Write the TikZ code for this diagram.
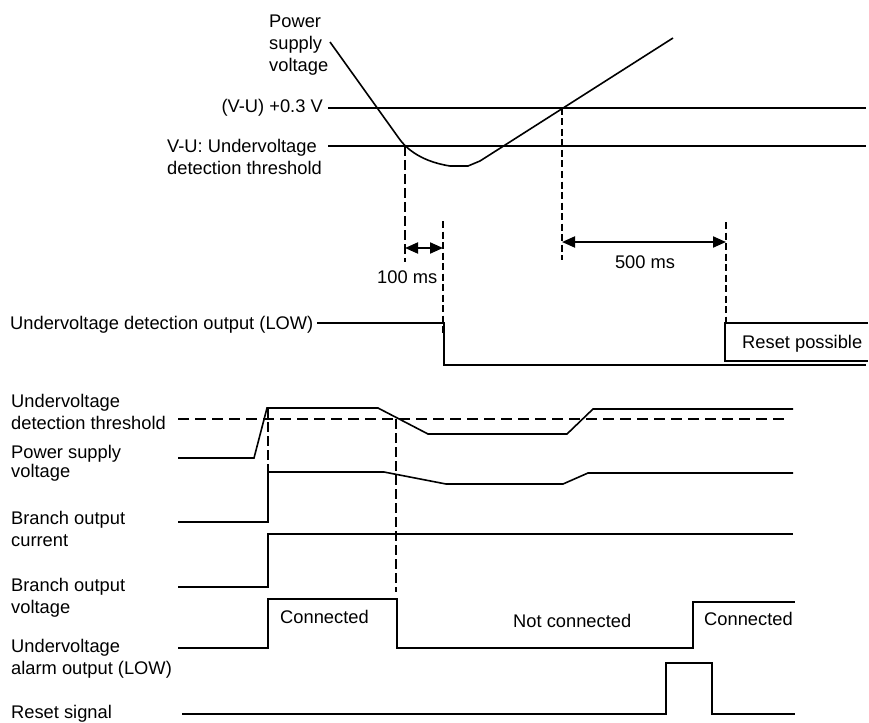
\documentclass[tikz,border=0pt]{standalone}
\usepackage{fontspec}
\setmainfont{Liberation Sans}
\usepackage{tikz}
\usetikzlibrary{positioning, arrows.meta}

\tikzset{
	lbl/.style={inner sep=0pt, align=left, anchor=base west},
	sig/.style={line width=1.6pt, line join=miter},
	thickdash/.style={line width=2.8pt, dash pattern=on 10pt off 4pt},
	thindash/.style={line width=1.9pt, dash pattern=on 7pt off 3.5pt},
	span/.style={line width=2pt, {Triangle[length=13pt,width=11pt]}-{Triangle[length=13pt,width=11pt]}}
}

\begin{document}
\begin{tikzpicture}
	[x=1pt, y=-1pt, font=\fontsize{18.3}{22}\selectfont]
   \useasboundingbox (0,0) rectangle (869,722);
   \node[lbl] (psv_top) at (269,72) {Power\\supply\\voltage};
   \node[lbl, anchor=base east] (lim_hi) at (323,113) {(V-U) +0.3 V};
   \node[lbl] (lim_lo) at (167,175) {V-U: Undervoltage\\detection threshold};
   \node[lbl] (ms_100) at (377,283) {100 ms};
   \node[lbl, anchor=base] (ms_500) at (645,268) {500 ms};
   \node[lbl] (det_out) at (10,329) {Undervoltage detection output (LOW)};
   \node[lbl] (rst_ok) at (742,348) {Reset possible};
   \coordinate (t_1) at (405,146);
   \coordinate (t_2) at (443,221);
   \coordinate (t_3) at (562,108);
   \coordinate (t_4) at (726,222);
   \coordinate (a_1) at (405,248);
   \coordinate (a_2) at (443,248);
   \coordinate (b_1) at (562,242);
   \coordinate (b_2) at (726,242);
    \draw[sig] (328,108) -- (866,108);
    \draw[sig] (328,146) -- (866,146);
    \draw[sig] (330,42) -- (398,137) .. controls (404,146) and (418,161) .. (450,166)
          -- (468,166) -- (480,161) -- (673,38);
    \draw[thickdash] (t_1) -- (405,262);
    \draw[thindash] (t_2) -- (443,333);
    \draw[thindash] (t_3) -- (562,260);
    \draw[thindash] (t_4) -- (726,323);
    \draw[span] (a_1) -- (a_2);
    \draw[span] (b_1) -- (b_2);
    \draw[sig] (317,323) -- (444,323) -- (444,365) -- (866,365);
    \draw[sig] (868,323) -- (725,323) -- (725,361) -- (868,361);
   \node[lbl] (thr_lbl) at (11,429) {Undervoltage\\detection threshold};
   \node[lbl] (psv_lbl) at (11,477) {Power supply\\[-3pt]voltage};
   \node[lbl] (cur_lbl) at (11,546) {Branch output\\current};
   \node[lbl] (vol_lbl) at (11,613) {Branch output\\voltage};
   \node[lbl] (alm_lbl) at (11,674) {Undervoltage\\alarm output (LOW)};
   \node[lbl] (rst_lbl) at (11,718) {Reset signal};
   \node[lbl] (con_1) at (280,623) {Connected};
   \node[lbl] (con_0) at (513,627) {Not connected};
   \node[lbl] (con_2) at (704,625) {Connected};
    \draw[sig, dash pattern=on 11pt off 6pt] (178,419) -- (787,419);
    \draw[sig] (178,458) -- (254,458) -- (267,408) -- (378,408) -- (428,434)
          -- (567,434) -- (593,409) -- (793,409);
    \draw[thickdash] (268,408) -- (268,472);
    \draw[sig] (178,522) -- (268,522) -- (268,472) -- (384,472) -- (446,484)
          -- (563,484) -- (588,473) -- (793,473);
    \draw[sig] (178,587) -- (268,587) -- (268,534) -- (793,534);
    \draw[thickdash] (396,419) -- (396,592);
    \draw[sig] (178,648) -- (268,648) -- (268,599) -- (397,599) -- (397,648)
          -- (693,648) -- (693,602) -- (795,602);
    \draw[sig] (182,714) -- (666,714) -- (666,663) -- (712,663) -- (712,714) -- (795,714);
\end{tikzpicture}
\end{document}
